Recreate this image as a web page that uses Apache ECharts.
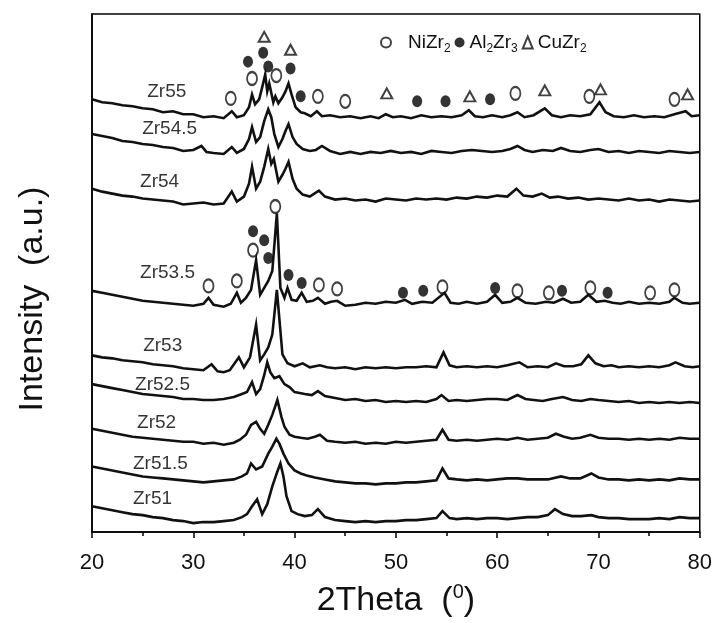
<!DOCTYPE html>
<html>
<head>
<meta charset="utf-8">
<script src="https://cdn.jsdelivr.net/npm/echarts@6/dist/echarts.min.js"></script>
<style>
  html, body { margin: 0; padding: 0; background: #fff; }
  #main { width: 715px; height: 623px; }
</style>
</head>
<body>
<div id="main"></div>
<script>
// 2Theta (deg) vs intensity (a.u., stacked with offsets)
var zr55 = [[20,436],[21,433],[22,432],[23,430],[24,429],[25,427],[26,426],[27,423],[28,424],[29,421],[30,421],[31,418],[32,419],[33,417],[33.8,424],[34.3,418],[35,420],[35.5,428],[35.8,441],[36.1,431],[36.5,436],[36.8,448],[37.1,461],[37.3,444],[37.5,452],[37.9,433],[38.1,439],[38.4,432],[38.8,438],[39.1,444],[39.4,452],[39.7,441],[40.1,428],[40.6,423],[41,422],[41.6,419],[42.2,424],[42.7,419],[43.5,420],[44.5,418],[45.5,419],[46.5,417],[47.5,419],[48.3,417],[49,421],[49.7,418],[50.5,419],[51.5,417],[52.5,420],[53.5,418],[54.5,419],[55.5,418],[56.5,420],[57.2,425],[57.8,419],[58.6,418],[59.5,420],[60.5,418],[61.3,420],[62,423],[62.7,418],[63.6,420],[64.7,427],[65.4,420],[66.3,418],[67.2,420],[68.2,419],[69.2,421],[70.1,433],[70.7,423],[71.5,419],[72.5,418],[73.5,420],[74.5,418],[75.5,419],[76.5,418],[77.5,421],[78.6,424],[79.2,419],[80,420]];
var zr545 = [[20,401],[21,399],[22,397],[23,394],[24,393],[25,391],[26,390],[27,388],[28,387],[29,384],[30,385],[30.8,389],[31.3,383],[32,382],[33,381],[33.8,388],[34.3,382],[35,386],[35.5,396],[35.8,408],[36.2,393],[36.6,398],[37,414],[37.4,426],[37.7,418],[38,401],[38.4,388],[38.8,396],[39.1,404],[39.4,411],[39.8,398],[40.2,391],[40.8,386],[41.5,384],[42.1,385],[42.7,389],[43.5,384],[44.5,381],[45.5,383],[46.5,381],[47.5,383],[48.5,382],[49.5,384],[50.5,382],[51.5,383],[52.5,381],[53.5,384],[54.5,383],[55.5,382],[56.5,384],[57.5,385],[58.5,384],[59.5,383],[60.5,384],[61.3,386],[62,389],[62.7,385],[63.5,383],[64.5,385],[65.5,384],[66.3,387],[67.2,384],[68.2,383],[69.2,385],[70,386],[71,383],[72,384],[73,382],[74,384],[75,383],[76,382],[77,384],[78,383],[79,382],[80,383]];
var zr54 = [[20,346],[21,343],[22,341],[23,339],[24,338],[25,336],[26,335],[27,334],[28,333],[29,330],[30,331],[31,332],[32,330],[33,331],[33.8,343],[34.3,333],[35,338],[35.5,351],[35.8,368],[36.2,346],[36.6,353],[37,368],[37.4,386],[37.7,371],[37.95,376],[38.4,353],[38.8,360],[39.1,366],[39.4,373],[39.8,356],[40.2,346],[40.8,340],[41.5,338],[42.4,344],[43,338],[44,335],[45,336],[46,334],[47,335],[48,333],[49,336],[50,335],[51,334],[52,336],[53,335],[54,336],[55,335],[56,337],[57,336],[58,338],[59,337],[60,339],[61,338],[61.9,346],[62.6,339],[63.5,338],[64.4,341],[65.2,337],[66,338],[67,336],[68,337],[69,335],[70,336],[71,335],[72,334],[73,336],[74,334],[75,335],[76,333],[77,335],[78,334],[79,333],[80,334]];
var zr535 = [[20,243],[21,241],[22,239],[23,237],[24,235],[25,233],[26,232],[27,231],[28,230],[29,229],[30,228],[31,230],[31.5,236],[32,229],[33,227],[33.7,230],[34.3,241],[34.7,231],[35.2,236],[35.7,244],[36.2,274],[36.6,239],[37,246],[37.4,253],[37.8,263],[38.25,321],[38.6,246],[39,236],[39.3,246],[39.7,234],[40.2,233],[40.7,241],[41.2,232],[41.8,233],[42.3,236],[43,230],[43.6,232],[44.2,233],[45,228],[46,229],[47,231],[48,230],[49,232],[50,231],[50.9,234],[51.6,230],[52.6,232],[53.6,231],[54.8,241],[55.4,231],[56.2,230],[57,232],[58,230],[59,232],[59.8,239],[60.5,231],[61.3,232],[62,236],[62.8,231],[63.8,230],[64.8,232],[65.6,231],[66.5,235],[67.3,231],[68.2,232],[69,239],[69.8,232],[70.6,233],[71.4,231],[72.2,230],[73,232],[74,230],[75,231],[76,230],[77,232],[77.5,236],[78.3,231],[79,230],[80,231]];
var zr53 = [[20,178],[21,176],[22,175],[23,173],[24,172],[25,171],[26,169],[27,168],[28,167],[29,165],[30,164],[31,163],[31.8,169],[32.4,162],[33,161],[33.6,163],[34.5,176],[35,166],[35.6,176],[36.2,209],[36.6,173],[37,179],[37.4,186],[37.8,199],[38.25,244],[38.8,179],[39.3,170],[40,167],[40.8,170],[41.5,166],[42.5,168],[43.2,166],[44,165],[45,166],[46,164],[47,166],[48,165],[49,166],[50,165],[51,166],[52,166],[53,167],[54,166],[54.7,181],[55.3,168],[56,166],[57,167],[58,166],[59,167],[60,166],[61,168],[62.2,171],[63,166],[64,167],[65,166],[65.8,170],[66.6,167],[67.5,167],[68.3,169],[69,178],[69.7,170],[70.5,167],[71.3,168],[72,166],[73,167],[74,166],[75,167],[76,166],[77,168],[77.6,171],[78.5,167],[79.3,166],[80,167]];
var zr525 = [[20,149],[21,147],[22,145],[23,143],[24,141],[25,139],[26,138],[27,137],[28,136],[29,134],[30,134],[31,133],[32,133],[33,134],[34,136],[34.8,139],[35.3,141],[35.8,151],[36.2,139],[36.6,144],[37,158],[37.3,171],[37.6,161],[38,155],[38.5,157],[39,149],[39.5,146],[40,141],[40.5,140],[41,139],[41.7,138],[42.3,142],[43,137],[44,135],[45,133],[46,134],[47,132],[48,133],[49,131],[50,132],[51,131],[52,132],[53,131],[54,134],[54.5,138],[55.2,132],[56,133],[57,132],[58,133],[59,134],[60,134],[61,133],[62,138],[62.8,134],[63.6,133],[64.5,132],[65.4,134],[66.5,136],[67.4,133],[68.3,132],[69.2,134],[70,133],[71,132],[72,131],[73,132],[74,130],[75,131],[76,130],[77,131],[78,130],[79,131],[80,130]];
var zr52 = [[20,104],[21,102],[22,100],[23,98],[24,96],[25,95],[26,94],[27,93],[28,92],[29,91],[30,91],[31,89],[32,90],[33,88],[34,90],[34.6,93],[35.2,98],[35.7,108],[36.2,111],[36.6,104],[37,99],[37.4,108],[37.8,118],[38.3,133],[38.7,116],[39,106],[39.5,98],[40,96],[40.6,95],[41.3,94],[42,96],[42.5,98],[43.2,92],[44,91],[45,90],[46,91],[47,89],[48,90],[49,89],[50,91],[51,90],[52,91],[53,92],[54,93],[54.6,103],[55.2,93],[56,92],[57,93],[58,92],[59,93],[60,94],[61,93],[62,95],[63,93],[64,94],[65,95],[65.8,99],[66.6,96],[67.4,94],[68.2,95],[69.2,98],[70,95],[71,94],[72,94],[73,93],[74,94],[75,93],[76,94],[77,93],[78,95],[79,94],[80,94]];
var zr515 = [[20,66],[21,64],[22,62],[23,60],[24,58],[25,56],[26,55],[27,54],[28,53],[29,52],[30,51],[31,50],[32,51],[33,52],[34,53],[34.8,56],[35.3,59],[35.7,69],[36.2,63],[36.8,66],[37.4,79],[37.8,86],[38.2,94],[38.5,89],[38.9,79],[39.4,69],[40,62],[40.6,59],[41.2,57],[42,55],[43,53],[44,51],[45,50],[46,49],[47,49],[48,48],[49,49],[50,49],[51,50],[52,50],[53,51],[54,52],[54.6,64],[55.2,54],[56,53],[57,52],[58,53],[59,52],[60,53],[61,54],[62,54],[63,53],[64,53],[65,53],[66.3,56],[67.2,54],[68.2,54],[69.3,59],[70,55],[71,53],[72,53],[73,52],[74,53],[75,52],[76,53],[77,52],[78,54],[79,53],[80,53]];
var zr51 = [[20,26],[21,24],[22,22],[23,20],[24,18],[25,17],[26,15],[27,14],[28,12],[29,11],[30,9],[31,10],[32,10],[33,11],[34,12],[34.8,15],[35.3,18],[35.8,26],[36.3,33],[36.8,18],[37.3,28],[37.8,46],[38.3,61],[38.6,69],[38.9,56],[39.2,36],[39.7,21],[40.3,18],[41,16],[41.7,17],[42.3,23],[43,15],[44,12],[45,11],[46,10],[47,11],[48,10],[49,11],[50,11],[51,12],[52,12],[53,13],[54,14],[54.6,21],[55.3,14],[56,13],[57,14],[58,13],[59,14],[60,14],[61,13],[62,14],[63,15],[64,15],[65,17],[65.7,23],[66.5,18],[67.4,16],[68.3,16],[69.3,17],[70,15],[71,14],[72,14],[73,13],[74,13],[75,13],[76,14],[77,13],[78,15],[79,14],[80,14]];

var sampleNames = ['Zr55', 'Zr54.5', 'Zr54', 'Zr53.5', 'Zr53', 'Zr52.5', 'Zr52', 'Zr51.5', 'Zr51'];
var sampleData = [zr55, zr545, zr54, zr535, zr53, zr525, zr52, zr515, zr51];
// where each curve name sits (left end, 2Theta / intensity)
var labelPos = [[25.4,444],[24.9,406],[24.7,353],[24.7,261],[25.0,188],[24.2,148],[24.4,110],[24.0,69],[24.0,33]];

// phase marks
var niZr2 = [[35.8,457],[38.2,460],[33.7,437],[42.3,439],[45.0,434],[61.8,442],[69.1,439],[77.5,436],
  [38.1,328],[35.9,284],[31.5,248],[34.3,253],[42.4,249],[44.2,245],[54.6,247],[62.0,243],[65.1,241],[69.2,246],[75.1,241],[77.5,244]];
var al2Zr3 = [[35.4,474],[36.9,483],[37.4,469],[39.6,467],[40.6,439],[52.1,434],[54.9,434],[59.3,436],
  [35.9,303],[37.0,294],[37.4,276],[39.4,259],[40.7,251],[50.7,241],[52.7,243],[59.8,246],[66.4,243],[70.9,241]];
var cuZr2 = [[37.0,499],[39.6,486],[49.1,442],[57.3,439],[64.7,445],[70.2,446],[78.8,441]];

var font = 'Liberation Sans, Arial, sans-serif';
var chart = echarts.init(document.getElementById('main'));

var series = [];
sampleData.forEach(function (d, i) {
  series.push({
    name: sampleNames[i],
    type: 'line',
    data: d,
    showSymbol: false,
    silent: true,
    lineStyle: { color: '#111', width: 2.6, join: 'miter' }
  });
});

series.push({
  name: 'labels',
  type: 'scatter',
  symbolSize: 1,
  itemStyle: { color: '#fff' },
  silent: true,
  z: 5,
  data: labelPos.map(function (p, i) { return { value: p, name: sampleNames[i] }; }),
  label: {
    show: true,
    position: 'right',
    distance: 0,
    formatter: '{b}',
    fontFamily: font,
    fontSize: 19,
    color: '#000'
  }
});

series.push({
  name: 'NiZr2', type: 'scatter', data: niZr2,
  symbol: 'emptyCircle', symbolSize: [10, 13],
  itemStyle: { color: '#111', borderWidth: 1.2 }
});
series.push({
  name: 'Al2Zr3', type: 'scatter', data: al2Zr3,
  symbol: 'circle', symbolSize: [10, 12],
  itemStyle: { color: '#000' }
});
series.push({
  name: 'CuZr2', type: 'scatter', data: cuZr2,
  symbol: 'emptyTriangle', symbolSize: [11, 10],
  itemStyle: { color: '#111', borderWidth: 1.2 }
});

var option = {
  animation: false,
  backgroundColor: '#fff',
  grid: {
    left: 92, right: 15, top: 14, bottom: 87,
    show: true, borderColor: '#000', borderWidth: 1.5
  },
  legend: {
    data: ['NiZr2', 'Al2Zr3', 'CuZr2'],
    left: 375, top: 28,
    itemWidth: 10, itemHeight: 12, itemGap: 4,
    formatter: function (n) {
      if (n === 'NiZr2') return '{g|}{m|NiZr}{s|2}';
      if (n === 'Al2Zr3') return '{m|Al}{s|2}{m|Zr}{s|3}';
      return '{m|CuZr}{s|2}';
    },
    textStyle: {
      fontFamily: font,
      rich: {
        g: { width: 12 },
        m: { fontSize: 19, fontFamily: font, color: '#111' },
        s: { fontSize: 12, fontFamily: font, color: '#111', padding: [12, 0, 0, 0] }
      }
    }
  },
  xAxis: {
    type: 'value',
    min: 20, max: 80, interval: 10,
    name: '2Theta  ({p|0})',
    nameLocation: 'middle',
    nameGap: 50,
    nameTextStyle: {
      fontFamily: font, fontSize: 34, color: '#111',
      rich: { p: { fontSize: 20, fontFamily: font, color: '#111', padding: [0, 0, 18, 0] } }
    },
    axisLine: { onZero: false, lineStyle: { color: '#000', width: 1.5 } },
    axisTick: { inside: false, length: 6, lineStyle: { color: '#000', width: 1.5 } },
    minorTick: { show: true, splitNumber: 2, length: 4, lineStyle: { color: '#000', width: 1.5 } },
    axisLabel: { fontFamily: font, fontSize: 22, color: '#111', margin: 20 },
    splitLine: { show: false }
  },
  yAxis: {
    type: 'value',
    min: 0, max: 522,
    name: 'Intensity  (a.u.)',
    nameLocation: 'middle',
    nameGap: 42,
    nameTextStyle: { fontFamily: font, fontSize: 34, color: '#111', padding: [0, 52, 0, 0] },
    axisLine: { show: true, lineStyle: { color: '#000', width: 1.5 } },
    axisTick: { show: false },
    axisLabel: { show: false },
    splitLine: { show: false }
  },
  series: series
};

chart.setOption(option);
</script>
</body>
</html>
